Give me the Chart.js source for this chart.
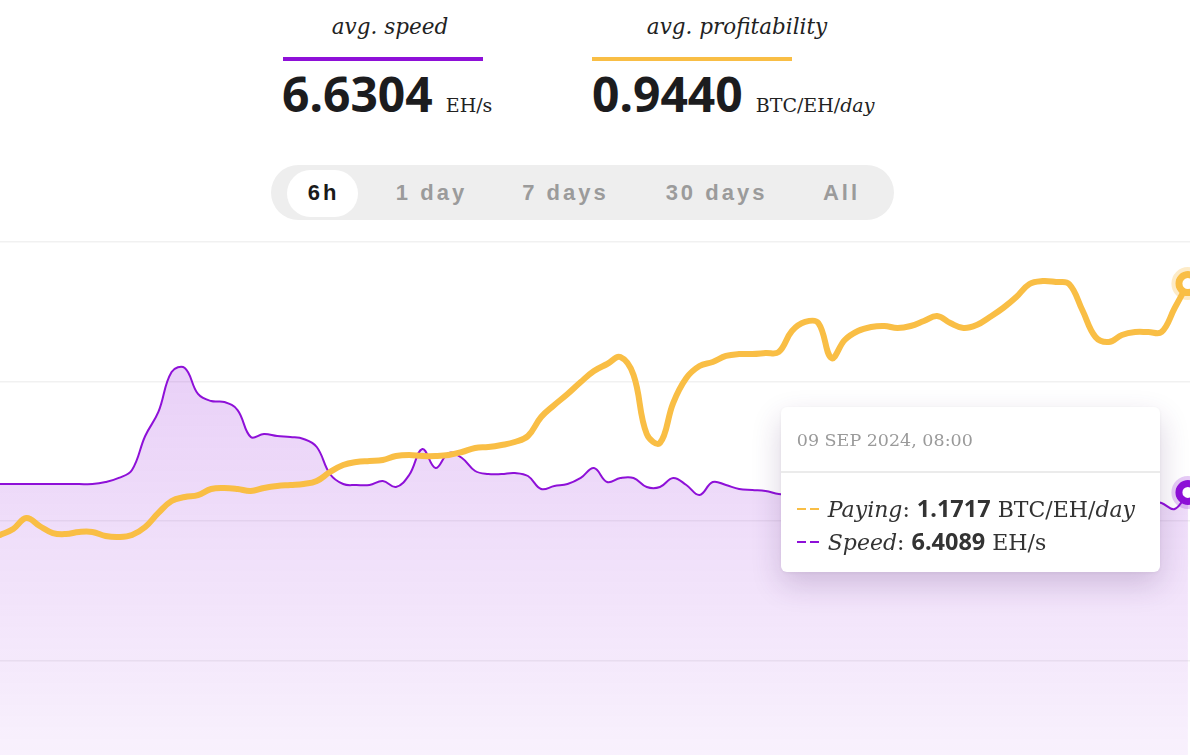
<!DOCTYPE html>
<html>
<head>
<meta charset="utf-8">
<script src="https://cdn.jsdelivr.net/npm/chart.js@4.4.1/dist/chart.umd.min.js"></script>
<style>
html,body{margin:0;padding:0;width:1195px;height:755px;overflow:hidden;background:#fff;}
body{position:relative;}
.cap{position:absolute;top:14px;width:260px;text-align:center;font-family:'DejaVu Serif',serif;font-style:italic;font-size:21.5px;color:#222;}
.bar{position:absolute;top:57px;width:200px;height:4px;}
.num{position:absolute;top:66px;white-space:nowrap;font-family:'Noto Sans',sans-serif;font-weight:700;font-size:48px;line-height:56px;color:#1c1c1e;}
.unit{font-family:'DejaVu Serif',serif;font-weight:400;font-size:19px;color:#222;margin-left:13px;}
.unit i{font-style:italic;}
#tabs{position:absolute;left:271px;top:165px;width:623px;height:55px;border-radius:28px;background:#eeeeee;}
#activeTab{position:absolute;left:16px;top:5px;width:71px;height:47px;border-radius:24px;background:#fff;}
.tab{position:absolute;top:0;height:55px;line-height:55px;transform:translateX(-50%);white-space:nowrap;font-family:'Liberation Sans',Arial,sans-serif;font-weight:700;font-size:22px;letter-spacing:3px;color:#9b9b9b;padding-left:3px;}
.tab.on{color:#1a1a1a;}
#chartWrap{position:absolute;left:-3px;top:239px;width:1193px;height:564px;overflow:hidden;}
#chartWrap canvas{position:absolute;left:0;top:0;}
#tip{position:absolute;width:379px;height:165px;background:#fff;border-radius:6px;box-shadow:0 12px 30px rgba(70,30,100,0.20),0 1px 4px rgba(0,0,0,0.06);display:none;box-sizing:border-box;}
#tipTitle{position:absolute;left:16px;top:20px;font-family:'DejaVu Serif',serif;font-size:17.5px;line-height:26px;color:#9a9a9a;white-space:nowrap;}
#tipSep{position:absolute;left:0;right:0;top:64px;height:2px;background:#ebebeb;}
#tipBody{position:absolute;left:16px;top:85px;font-family:'DejaVu Serif',serif;font-size:22px;color:#333;white-space:nowrap;}
#tipBody .row{height:33px;line-height:33px;}
#tipBody .dash{display:inline-block;width:31px;height:33px;vertical-align:top;position:relative;}
#tipBody .dash span{position:absolute;top:16px;width:9px;height:2px;}
#tipBody i{font-style:italic;}
#tipBody b{font-family:'Noto Sans',sans-serif;font-weight:700;font-size:23.5px;line-height:33px;}
</style>
</head>
<body>
<div class="cap" style="left:260px">avg. speed</div>
<div class="bar" style="left:283px;background:#8e10d8"></div>
<div class="num" style="left:282px"><span id="avgSpeed"></span><span class="unit">EH/s</span></div>

<div class="cap" style="left:607px">avg. profitability</div>
<div class="bar" style="left:592px;background:#f9be45"></div>
<div class="num" style="left:592px"><span id="avgPay"></span><span class="unit">BTC/EH/<i>day</i></span></div>

<div id="tabs"><div id="activeTab"></div></div>

<div id="chartWrap"><canvas id="c" width="1216" height="564"></canvas></div>
<div id="tip"><div id="tipTitle"></div><div id="tipSep"></div><div id="tipBody"></div></div>

<script>
// ---------- data ----------
const avgSpeedText = '6.6304';
const avgPayText = '0.9440';
const tabLabels = ['6h', '1 day', '7 days', '30 days', 'All'];
const dateText = '09 SEP 2024';
const startMinute = 120;   // 02:00
const stepMinutes = 4;

// BTC/EH/day
const paying = [
  0.6987, 0.7099, 0.7306, 0.7156, 0.7024, 0.7005, 0.7043, 0.7043, 0.6968, 0.6949,
  0.6987, 0.7137, 0.7401, 0.7626, 0.7702, 0.7739, 0.7852, 0.7871, 0.7852, 0.7815,
  0.7871, 0.7909, 0.7927, 0.7946, 0.8003, 0.8172, 0.8304, 0.8360, 0.8379, 0.8398,
  0.8473, 0.8492, 0.8473, 0.8473, 0.8492, 0.8548, 0.8624, 0.8642, 0.8680, 0.8737,
  0.8849, 0.9207, 0.9433, 0.9640, 0.9866, 1.0073, 1.0204, 1.0336, 0.9997, 0.8887,
  0.8718, 0.9470, 0.9941, 1.0167, 1.0242, 1.0355, 1.0392, 1.0392, 1.0411, 1.0430,
  1.0825, 1.0995, 1.0976, 1.0317, 1.0656, 1.0825, 1.0900, 1.0919, 1.0882, 1.0919,
  1.1013, 1.1108, 1.0976, 1.0882, 1.0938, 1.1089, 1.1258, 1.1465, 1.1710, 1.1766,
  1.1747, 1.1710, 1.1220, 1.0712, 1.0618, 1.0750, 1.0806, 1.0806, 1.0806, 1.1258,
  1.1717
];

// EH/s
const speed = [
  6.530, 6.530, 6.530, 6.530, 6.530, 6.530, 6.530, 6.530, 6.559, 6.617,
  6.731, 7.219, 7.563, 8.136, 8.194, 7.821, 7.720, 7.706, 7.591, 7.204,
  7.247, 7.219, 7.204, 7.176, 7.061, 6.674, 6.530, 6.516, 6.516, 6.573,
  6.487, 6.659, 7.032, 6.760, 6.975, 6.903, 6.717, 6.674, 6.674, 6.688,
  6.645, 6.459, 6.502, 6.530, 6.617, 6.760, 6.559, 6.617, 6.617, 6.487,
  6.487, 6.617, 6.516, 6.373, 6.559, 6.516, 6.459, 6.444, 6.430, 6.387,
  6.373, 6.401, 6.358, 6.416, 6.387, 6.344, 6.373, 6.401, 6.358, 6.330,
  6.387, 6.416, 6.373, 6.344, 6.358, 6.401, 6.373, 6.330, 6.358, 6.387,
  6.344, 6.373, 6.401, 6.358, 6.330, 6.373, 6.344, 6.301, 6.258, 6.172,
  6.4089
];

const minutes = speed.map((_, i) => i * stepMinutes);
const pad = n => String(n).padStart(2, '0');
const timeLabels = minutes.map(m => {
  const t = startMinute + m;
  return dateText + ', ' + pad(Math.floor(t / 60)) + ':' + pad(t % 60);
});

// ---------- header ----------
document.getElementById('avgSpeed').textContent = avgSpeedText;
document.getElementById('avgPay').textContent = avgPayText;
const tabCenters = [51, 159, 293, 444, 569];
const tabsEl = document.getElementById('tabs');
tabLabels.forEach((t, i) => {
  const s = document.createElement('span');
  s.className = 'tab' + (i === 0 ? ' on' : '');
  s.style.left = tabCenters[i] + 'px';
  s.textContent = t;
  tabsEl.appendChild(s);
});

// ---------- chart ----------
const PURPLE = '#8e10d8';
const ORANGE = '#f9be45';
const units = ['BTC/EH/<i>day</i>', 'EH/s'];
const names = ['Paying', 'Speed'];

const haloPlugin = {
  id: 'halo',
  afterDatasetsDraw(chart) {
    const ctx = chart.ctx;
    chart.getActiveElements().forEach(a => {
      const el = a.element;
      ctx.save();
      ctx.beginPath();
      ctx.arc(el.x, el.y, 14.5, 0, Math.PI * 2);
      ctx.strokeStyle = a.datasetIndex === 0 ? 'rgba(249,190,69,0.3)' : 'rgba(142,16,216,0.22)';
      ctx.lineWidth = 4;
      ctx.stroke();
      ctx.restore();
    });
  }
};

function externalTip(context) {
  const { tooltip } = context;
  const tip = document.getElementById('tip');
  if (!tooltip || tooltip.opacity === 0 || !tooltip.dataPoints || !tooltip.dataPoints.length) {
    tip.style.display = 'none';
    return;
  }
  const dp = tooltip.dataPoints;
  document.getElementById('tipTitle').textContent = timeLabels[dp[0].dataIndex];
  document.getElementById('tipBody').innerHTML = dp.map(p => {
    const col = p.datasetIndex === 0 ? ORANGE : PURPLE;
    const v = p.datasetIndex === 0 ? paying[p.dataIndex] : speed[p.dataIndex];
    return '<div class="row"><span class="dash"><span style="left:0;background:' + col + '"></span><span style="left:13px;background:' + col +
      '"></span></span><i>' + names[p.datasetIndex] + '</i>: <b>' + v.toFixed(4) + '</b> ' + units[p.datasetIndex] + '</div>';
  }).join('');
  const wrap = document.getElementById('chartWrap');
  tip.style.display = 'block';
  tip.style.left = (wrap.offsetLeft + tooltip.caretX - 31 - 379) + 'px';
  tip.style.top = (wrap.offsetTop + tooltip.caretY + 20) + 'px';
}

const chart = new Chart(document.getElementById('c'), {
  type: 'line',
  data: {
    datasets: [
      {
        label: 'Paying',
        data: paying.map((v, i) => ({ x: minutes[i], y: v })),
        yAxisID: 'yPay',
        borderColor: ORANGE,
        borderWidth: 6,
        tension: 0.4,
        fill: false,
        pointRadius: 0,
        pointHoverRadius: 9,
        pointHoverBorderWidth: 7,
        pointHoverBackgroundColor: '#fff',
        pointHoverBorderColor: ORANGE,
        borderCapStyle: 'round',
        borderJoinStyle: 'round',
        clip: false
      },
      {
        label: 'Speed',
        data: speed.map((v, i) => ({ x: minutes[i], y: v })),
        yAxisID: 'ySpeed',
        borderColor: PURPLE,
        borderWidth: 2,
        tension: 0.4,
        fill: 'start',
        backgroundColor: (ctx) => {
          const ca = ctx.chart.chartArea;
          if (!ca) return 'rgba(142,16,216,0.12)';
          const g = ctx.chart.ctx.createLinearGradient(0, ca.top, 0, ca.bottom);
          g.addColorStop(0, 'rgba(142,16,216,0.24)');
          g.addColorStop(1, 'rgba(142,16,216,0.045)');
          return g;
        },
        pointRadius: 0,
        pointHoverRadius: 9,
        pointHoverBorderWidth: 7,
        pointHoverBackgroundColor: '#fff',
        pointHoverBorderColor: PURPLE,
        clip: false
      }
    ]
  },
  options: {
    responsive: false,
    animation: false,
    layout: { padding: 0 },
    interaction: { mode: 'index', intersect: false },
    scales: {
      x: { type: 'linear', min: 0, max: 366.7, display: false },
      yPay: { type: 'linear', axis: 'y', min: 0.2, max: 1.25, display: false },
      ySpeed: { type: 'linear', axis: 'y', min: 2, max: 10, display: false },
      grid: {
        type: 'linear', axis: 'y', position: 'left', min: 0, max: 4,
        ticks: { display: false, stepSize: 1 },
        grid: { color: 'rgba(0,0,0,0.055)', lineWidth: 1.5, drawTicks: false },
        border: { display: false },
        afterFit: (s) => { s.width = 0; }
      }
    },
    plugins: {
      legend: { display: false },
      tooltip: { enabled: false, mode: 'index', intersect: false, position: 'average', external: externalTip }
    }
  },
  plugins: [haloPlugin]
});

const last = speed.length - 1;
const act = [{ datasetIndex: 0, index: last }, { datasetIndex: 1, index: last }];
chart.setActiveElements(act);
chart.tooltip.setActiveElements(act, { x: 0, y: 0 });
chart.update();
</script>
</body>
</html>
